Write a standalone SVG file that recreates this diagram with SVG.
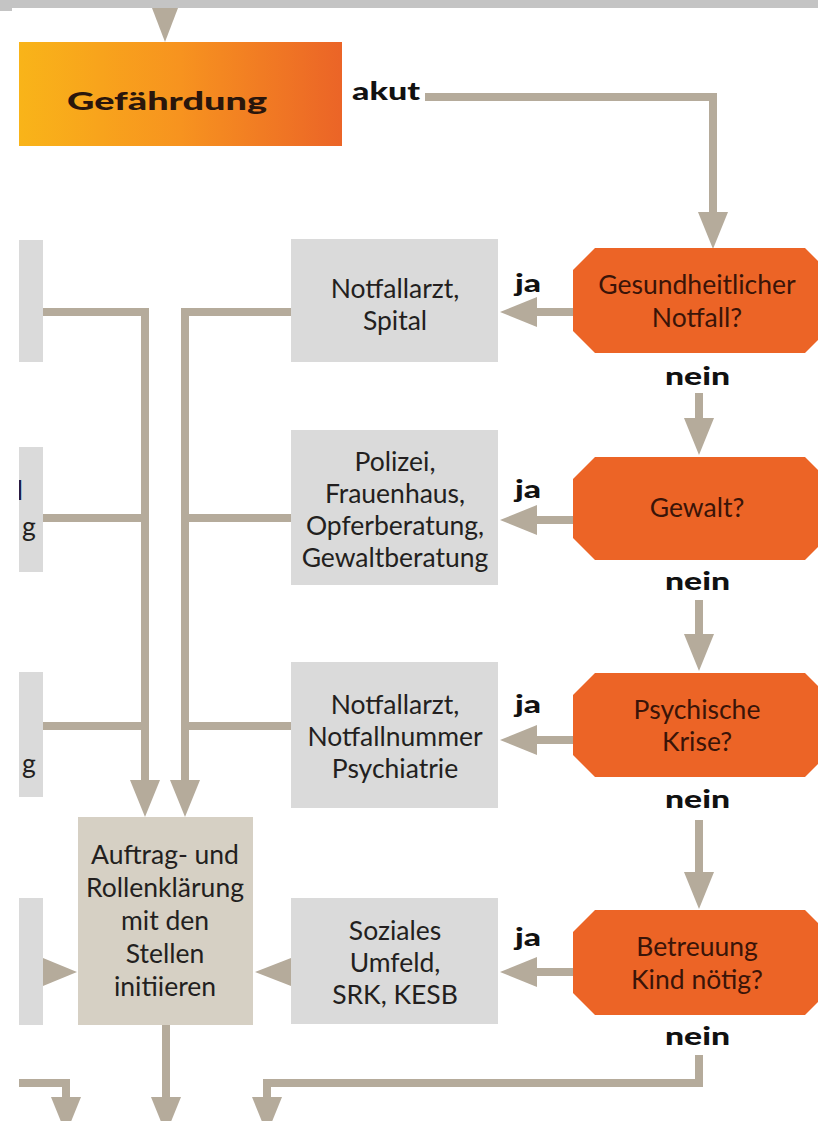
<svg xmlns="http://www.w3.org/2000/svg" width="818" height="1121" viewBox="0 0 818 1121">
<defs>
<linearGradient id="gOrange" x1="0" y1="0" x2="1" y2="0">
<stop offset="0" stop-color="#f9b419"/>
<stop offset="0.5" stop-color="#f7931f"/>
<stop offset="1" stop-color="#eb6427"/>
</linearGradient>
<marker id="ah" viewBox="0 0 37 30" refX="0" refY="15" markerWidth="37" markerHeight="30" markerUnits="userSpaceOnUse" orient="auto">
<path d="M0,0 L37,15 L0,30 Z" fill="#b5ab9b"/>
</marker>
<clipPath id="leftClip"><rect x="19" y="0" width="24" height="1121"/></clipPath>
</defs>
<style>
.conn{fill:none;stroke:#b5ab9b;stroke-width:8;stroke-linejoin:miter}
.head{fill:#b5ab9b}
.gray{fill:#dadada}
.beige{fill:#d6d0c4}
.dec{fill:#ec6426}
.t{font-family:Lato,"Liberation Sans",sans-serif;font-size:26.5px;fill:#231f20;text-anchor:middle}
.td{font-family:Lato,"Liberation Sans",sans-serif;font-size:26.5px;fill:#3a1408;text-anchor:middle}
.b{font-family:Lato,"Liberation Sans",sans-serif;font-weight:900;font-size:24px;fill:#111}
</style>
<rect x="0" y="0" width="818" height="8" fill="#c4c4c4"/>
<rect x="0" y="8" width="12" height="3" fill="#c4c4c4"/>

<g id="connectors">
<polygon class="head" points="152,8 178,8 165,42"/>
<path class="conn" d="M425,97 H713 V212" marker-end="url(#ah)"/>
<path class="conn" d="M573,312 H537" marker-end="url(#ah)"/>
<path class="conn" d="M699,393 V418" marker-end="url(#ah)"/>
<path class="conn" d="M573,520 H537" marker-end="url(#ah)"/>
<path class="conn" d="M699,600 V634" marker-end="url(#ah)"/>
<path class="conn" d="M573,740 H537" marker-end="url(#ah)"/>
<path class="conn" d="M699,820 V872" marker-end="url(#ah)"/>
<path class="conn" d="M573,972 H537" marker-end="url(#ah)"/>
<path class="conn" d="M699,1055 V1083 H267 V1097" marker-end="url(#ah)"/>
<path class="conn" d="M43,312 H145 V780" marker-end="url(#ah)"/>
<path class="conn" d="M43,518 H145"/>
<path class="conn" d="M43,726 H145"/>
<path class="conn" d="M291,312 H185 V780" marker-end="url(#ah)"/>
<path class="conn" d="M291,518 H185"/>
<path class="conn" d="M291,726 H185"/>
<polygon class="head" points="43,958 77,972 43,986"/>
<polygon class="head" points="291,958 255,972 291,986"/>
<path class="conn" d="M166,1025 V1097" marker-end="url(#ah)"/>
<path class="conn" d="M19,1083 H66 V1097" marker-end="url(#ah)"/>
</g>

<g id="gefaehrdung">
<rect x="19" y="42" width="323" height="104" fill="url(#gOrange)"/>
<text class="b" x="167" y="110" font-size="34" text-anchor="middle" textLength="200" lengthAdjust="spacingAndGlyphs" style="fill:#2a160c">Gefährdung</text>
</g>
<g id="label-akut"><text class="b" x="352" y="100" font-size="25" textLength="68" lengthAdjust="spacingAndGlyphs">akut</text></g>

<g id="left-a"><rect class="gray" x="19" y="240" width="24" height="122"/></g>
<g id="left-b"><rect class="gray" x="19" y="447" width="24" height="125"/>
<text class="t" x="20" y="500" clip-path="url(#leftClip)" style="fill:#1a1a40">l</text>
<text class="t" x="29" y="536">g</text></g>
<g id="left-c"><rect class="gray" x="19" y="672" width="24" height="125"/>
<text class="t" x="29" y="773">g</text></g>
<g id="left-d"><rect class="gray" x="19" y="898" width="24" height="127"/></g>

<g id="box-notfallarzt-spital"><rect class="gray" x="291" y="239" width="207" height="123"/>
<text class="t" x="395" y="298">Notfallarzt,</text>
<text class="t" x="395" y="330">Spital</text></g>

<g id="box-polizei"><rect class="gray" x="291" y="430" width="207" height="155"/>
<text class="t" x="395" y="471">Polizei,</text>
<text class="t" x="395" y="503">Frauenhaus,</text>
<text class="t" x="395" y="535">Opferberatung,</text>
<text class="t" x="395" y="567">Gewaltberatung</text></g>

<g id="box-psychiatrie"><rect class="gray" x="291" y="662" width="207" height="146"/>
<text class="t" x="395" y="714">Notfallarzt,</text>
<text class="t" x="395" y="746">Notfallnummer</text>
<text class="t" x="395" y="778">Psychiatrie</text></g>

<g id="box-soziales"><rect class="gray" x="291" y="898" width="207" height="126"/>
<text class="t" x="395" y="940">Soziales</text>
<text class="t" x="395" y="972">Umfeld,</text>
<text class="t" x="395" y="1004">SRK, KESB</text></g>

<g id="box-auftrag"><rect class="beige" x="78" y="817" width="175" height="208"/>
<text class="t" x="165" y="864">Auftrag- und</text>
<text class="t" x="165" y="897">Rollenklärung</text>
<text class="t" x="165" y="930">mit den</text>
<text class="t" x="165" y="963">Stellen</text>
<text class="t" x="165" y="996">initiieren</text></g>

<g id="dec-gesundheit"><polygon class="dec" points="595,248 805,248 827,270 827,331 805,353 595,353 573,331 573,270"/>
<text class="td" x="697" y="294">Gesundheitlicher</text>
<text class="td" x="697" y="327">Notfall?</text></g>

<g id="dec-gewalt"><polygon class="dec" points="595,457 805,457 827,479 827,538 805,560 595,560 573,538 573,479"/>
<text class="td" x="697" y="517">Gewalt?</text></g>

<g id="dec-psychisch"><polygon class="dec" points="595,673 805,673 827,695 827,755 805,777 595,777 573,755 573,695"/>
<text class="td" x="697" y="719">Psychische</text>
<text class="td" x="697" y="751">Krise?</text></g>

<g id="dec-betreuung"><polygon class="dec" points="595,910 805,910 827,932 827,993 805,1015 595,1015 573,993 573,932"/>
<text class="td" x="697" y="956">Betreuung</text>
<text class="td" x="697" y="989">Kind nötig?</text></g>

<g id="labels">
<text class="b" x="515" y="292" textLength="26" lengthAdjust="spacingAndGlyphs">ja</text>
<text class="b" x="515" y="498" textLength="26" lengthAdjust="spacingAndGlyphs">ja</text>
<text class="b" x="515" y="713" textLength="26" lengthAdjust="spacingAndGlyphs">ja</text>
<text class="b" x="515" y="946" textLength="26" lengthAdjust="spacingAndGlyphs">ja</text>
<text class="b" x="665" y="385" textLength="65" lengthAdjust="spacingAndGlyphs">nein</text>
<text class="b" x="665" y="590" textLength="65" lengthAdjust="spacingAndGlyphs">nein</text>
<text class="b" x="665" y="808" textLength="65" lengthAdjust="spacingAndGlyphs">nein</text>
<text class="b" x="665" y="1045" textLength="65" lengthAdjust="spacingAndGlyphs">nein</text>
</g>
</svg>
